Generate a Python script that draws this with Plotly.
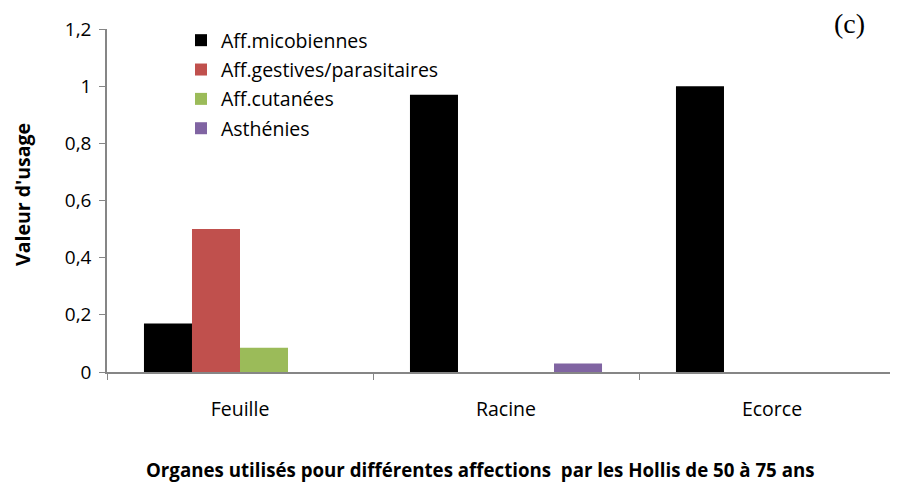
import plotly.graph_objects as go

categories = ["Feuille", "Racine", "Ecorce"]
series_names = ["Aff.micobiennes", "Aff.gestives/parasitaires", "Aff.cutanées", "Asthénies"]
micobiennes = [0.17, 0.97, 1.0]
gestives = [0.5, 0, 0]
cutanees = [0.085, 0, 0]
asthenies = [0, 0.03, 0]
colors = ["#000000", "#C0504D", "#9BBB59", "#8064A2"]
y_tickvals = [0, 0.2, 0.4, 0.6, 0.8, 1.0, 1.2]
y_ticktext = ["0", "0,2", "0,4", "0,6", "0,8", "1", "1,2"]

font_family = "'Open Sans', Lato, sans-serif"
# page body has an 8px margin; figure is sized/offset to compensate
OFF = 8
W, H = 898 - OFF, 483 - OFF
L, R, T = 107 - OFF, 0, 29 - OFF
B = H - (372 - OFF)
PW, PH = W - L - R, H - T - B
CAT_W = 266  # pixel width of one category band
X_MAX = -0.5 + PW / CAT_W


def px_x(sx):
    return (sx - OFF - L) / PW


def px_y(sy):
    return (T + PH - (sy - OFF)) / PH


fig = go.Figure()
for name, vals, col in zip(series_names, [micobiennes, gestives, cutanees, asthenies], colors):
    fig.add_trace(go.Bar(
        x=categories, y=vals, name=name, legendgroup=name,
        marker=dict(color=col, line=dict(width=0)),
    ))

fig.update_layout(
    width=W, height=H,
    margin=dict(l=L, r=R, t=T, b=B, autoexpand=False),
    paper_bgcolor="white", plot_bgcolor="white",
    barmode="group", bargap=0.278, bargroupgap=0,
    font=dict(family=font_family, size=19, color="#000000"),
    showlegend=True,
    legend=dict(
        x=px_x(181), y=px_y(21), xanchor="left", yanchor="top",
        traceorder="grouped", tracegroupgap=1,
        font=dict(family=font_family, size=19.5, color="#000000"),
        bgcolor="rgba(0,0,0,0)", itemwidth=30,
    ),
    xaxis=dict(
        type="category", range=[-0.5, X_MAX], automargin=False,
        showline=True, linecolor="#868686", linewidth=1.5,
        ticks="outside", ticklen=6, tickcolor="#868686", tickson="boundaries",
        showgrid=False, tickfont=dict(size=19.5), ticklabelstandoff=19,
    ),
    yaxis=dict(
        range=[0, 1.2], tickvals=y_tickvals, ticktext=y_ticktext, automargin=False,
        showline=True, linecolor="#868686", linewidth=1.5,
        ticks="outside", ticklen=6, tickcolor="#868686",
        showgrid=False, zeroline=False, tickfont=dict(size=19),
        ticklabelstandoff=4,
    ),
    annotations=[
        dict(text="<b>Valeur d'usage</b>", xref="paper", yref="paper",
             x=px_x(22), y=px_y(195), xanchor="center", yanchor="middle",
             textangle=-90, showarrow=False, font=dict(size=19.5)),
        dict(text="<b>Organes utilisés pour différentes affections  par les Hollis de 50 à 75 ans</b>",
             xref="paper", yref="paper", x=px_x(480), y=px_y(469),
             xanchor="center", yanchor="middle", showarrow=False, font=dict(size=18.7)),
        dict(text="(c)", xref="paper", yref="paper", x=px_x(849), y=px_y(23),
             xanchor="center", yanchor="middle", showarrow=False,
             font=dict(family="'Liberation Serif', 'DejaVu Serif', serif", size=28)),
    ],
)

fig.write_html("out.html")
